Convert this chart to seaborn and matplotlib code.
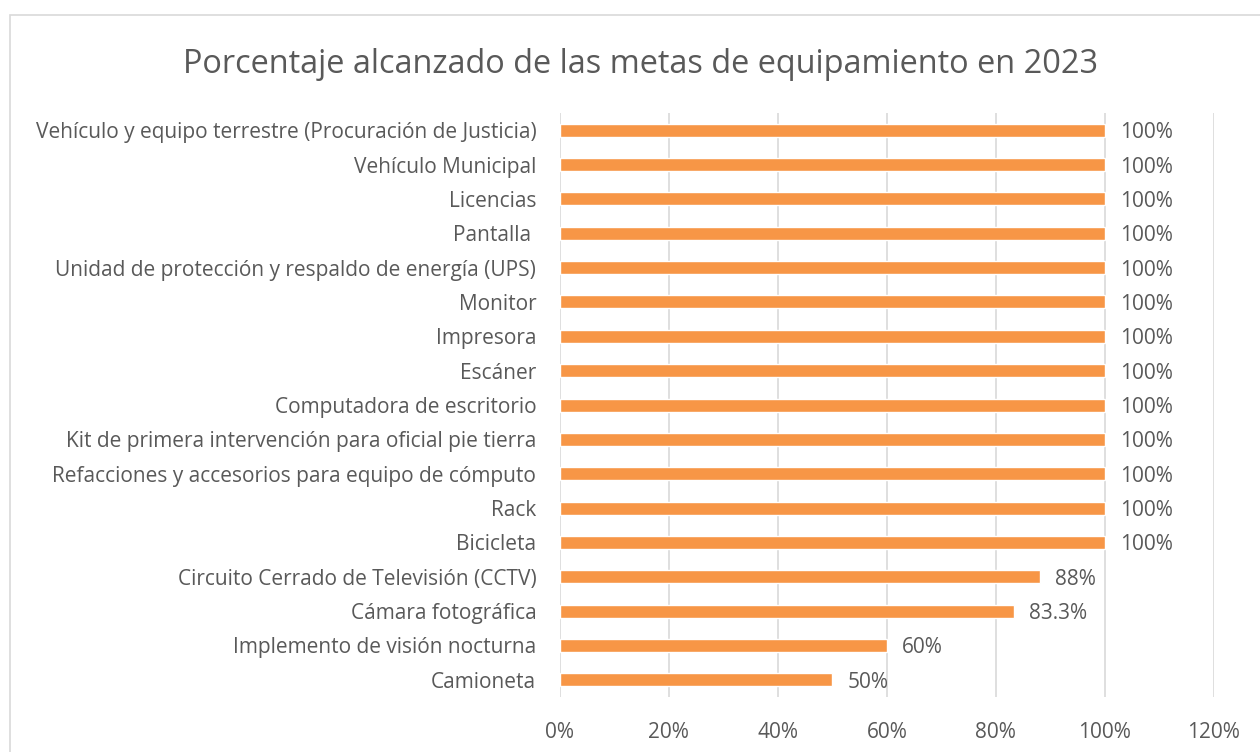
import pandas as pd
import seaborn as sns
import matplotlib.pyplot as plt
from matplotlib.patches import Rectangle

# Data (top to bottom)
categories = [
    "Vehículo y equipo terrestre (Procuración de Justicia)",
    "Vehículo Municipal",
    "Licencias",
    "Pantalla ",
    "Unidad de protección y respaldo de energía (UPS)",
    "Monitor",
    "Impresora",
    "Escáner",
    "Computadora de escritorio",
    "Kit de primera intervención para oficial pie tierra",
    "Refacciones y accesorios para equipo de cómputo",
    "Rack",
    "Bicicleta",
    "Circuito Cerrado de Televisión (CCTV)",
    "Cámara fotográfica",
    "Implemento de visión nocturna",
    "Camioneta",
]
values = [100, 100, 100, 100, 100, 100, 100, 100, 100, 100, 100, 100, 100,
          88, 83.3, 60, 50]
x_ticks = [0, 20, 40, 60, 80, 100, 120]

title = "Porcentaje alcanzado de las metas de equipamiento en 2023"
bar_color = "#F79646"
text_color = "#595959"
grid_color = "#D9D9D9"

df = pd.DataFrame({"categoria": categories, "valor": values})

sns.set_style("white")
plt.rcParams['font.family'] = ['Open Sans', 'DejaVu Sans']

fig = plt.figure(figsize=(12.6, 7.52), dpi=100)
ax = fig.add_axes([0.4444, 0.0731, 0.519, 0.7766])

sns.barplot(data=df, x="valor", y="categoria", orient="h", color=bar_color,
            saturation=1, width=0.38, ax=ax)

ax.set_xlim(0, 120)
ax.set_xticks(x_ticks)
ax.set_xticklabels([f"{t}%" for t in x_ticks])
ax.set_xlabel("")
ax.set_ylabel("")
ax.grid(axis="x", color=grid_color, linewidth=1.2)
ax.set_axisbelow(True)
for s in ax.spines.values():
    s.set_visible(False)
ax.tick_params(axis="both", length=0, colors=text_color, labelsize=15)
ax.tick_params(axis="y", pad=17)
ax.tick_params(axis="x", pad=18)

labels = [f"{v:g}%" for v in values]
texts = ax.bar_label(ax.containers[0], labels=labels, padding=11,
                     color=text_color, fontsize=15)
for t in texts:
    t.set_va("center_baseline")

fig.text(0.508, 0.914, title, ha="center", va="center",
         color=text_color, fontsize=23.4)

# chart area border
fig.patches.append(Rectangle((10 / 1260, -0.1), 1.2, 1 - 15 / 752 + 0.1,
                             transform=fig.transFigure, fill=False,
                             edgecolor=grid_color, linewidth=1.2))

fig.savefig("out.png", dpi=100)
plt.close(fig)
